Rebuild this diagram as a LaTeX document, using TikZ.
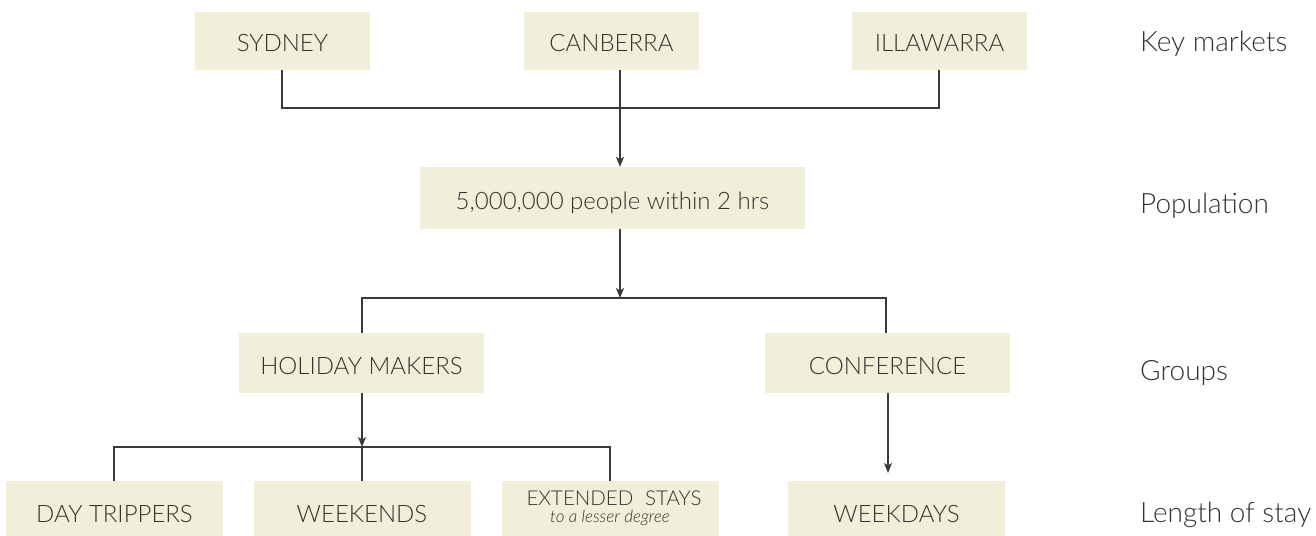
\documentclass[tikz,border=0pt]{standalone}
\usepackage{fontspec}
\setmainfont{Lato}[UprightFont=* Light, ItalicFont=* Light Italic]
\usetikzlibrary{arrows.meta}
\definecolor{boxfill}{HTML}{F1EED9}
\definecolor{ink}{HTML}{333333}
\definecolor{linec}{HTML}{3A3A3A}
\begin{document}
\begin{tikzpicture}[x=1pt,y=-1pt,
  box/.style={fill=boxfill, draw=none, inner sep=0pt, text=ink,
    text height=22pt, text depth=0pt, font=\fontsize{24}{28}\selectfont},
  topbox/.style={box, minimum width=175pt, minimum height=58pt},
  midbox/.style={box, minimum width=245pt, minimum height=60pt},
  botbox/.style={box, minimum width=217pt, minimum height=60pt},
  lbl/.style={anchor=base west, text=ink, inner sep=0pt, font=\fontsize{28}{32}\selectfont},
  conn/.style={draw=linec, line width=1.3pt},
  arr/.style={conn, -{Stealth[length=10pt,width=8pt,inset=2.5pt]}}]
\useasboundingbox (0,0) rectangle (1316,535);
\clip (0,0) rectangle (1316,535);

% key markets
\node[topbox] (syd)  at (282.5,41) {SYDNEY};
\node[topbox] (canb) at (611.5,41) {CANBERRA};
\node[topbox] (illa) at (939.5,41) {ILLAWARRA};

% population
\node[box, minimum width=385pt, minimum height=62pt] (pop) at (612.5,198) {5,000,000 people within 2 hrs};

% groups
\node[midbox] (hol)  at (361.5,363) {HOLIDAY MAKERS};
\node[midbox] (conf) at (887.5,363) {CONFERENCE};

% length of stay
\node[botbox] (day)   at (114.5,511) {DAY TRIPPERS};
\node[botbox] (wkend) at (362,511) {WEEKENDS};
\node[botbox] (ext)   at (610.5,511) {};
\node[anchor=base, inner sep=0pt, text=ink, font=\fontsize{20.5}{24}\selectfont] (extA) at (614,505) {EXTENDED\hspace{0.3em} STAYS};
\node[anchor=base, inner sep=0pt, text=ink, font=\fontsize{17}{19}\selectfont\itshape] (extB) at (610,522) {to a lesser degree};
\node[botbox] (wkday) at (896.5,511) {WEEKDAYS\hspace{15pt}};

% labels
\node[lbl] (l1) at (1140,52)  {Key markets};
\node[lbl] (l2) at (1140,213) {Population};
\node[lbl] (l3) at (1140,380) {Groups};
\node[lbl] (l4) at (1140,522) {Length of stay};

% connector coordinates
\coordinate (c1) at (620,108);
\coordinate (c2) at (620,298);
\coordinate (c3) at (362,447);

% key markets -> population
\draw[conn] (syd.south -| 282,0) -- (282,108) -- (939,108) -- (illa.south -| 939,0);
\draw[arr] (canb.south -| c1) -- (pop.north -| c1);

% population -> groups
\draw[arr] (pop.south -| c2) -- (c2);
\draw[conn] (hol.north -| 362,0) -- (362,298) -- (886,298) -- (conf.north -| 886,0);

% holiday -> length of stay
\draw[arr] (hol.south -| c3) -- (c3);
\draw[conn] (day.north -| 114,0) -- (114,447) -- (610,447) -- (ext.north -| 610,0);
\draw[conn] (c3) -- (wkend.north -| c3);

% conference -> weekdays
\draw[arr] (conf.south -| 888,0) -- (888,473);
\end{tikzpicture}
\end{document}
